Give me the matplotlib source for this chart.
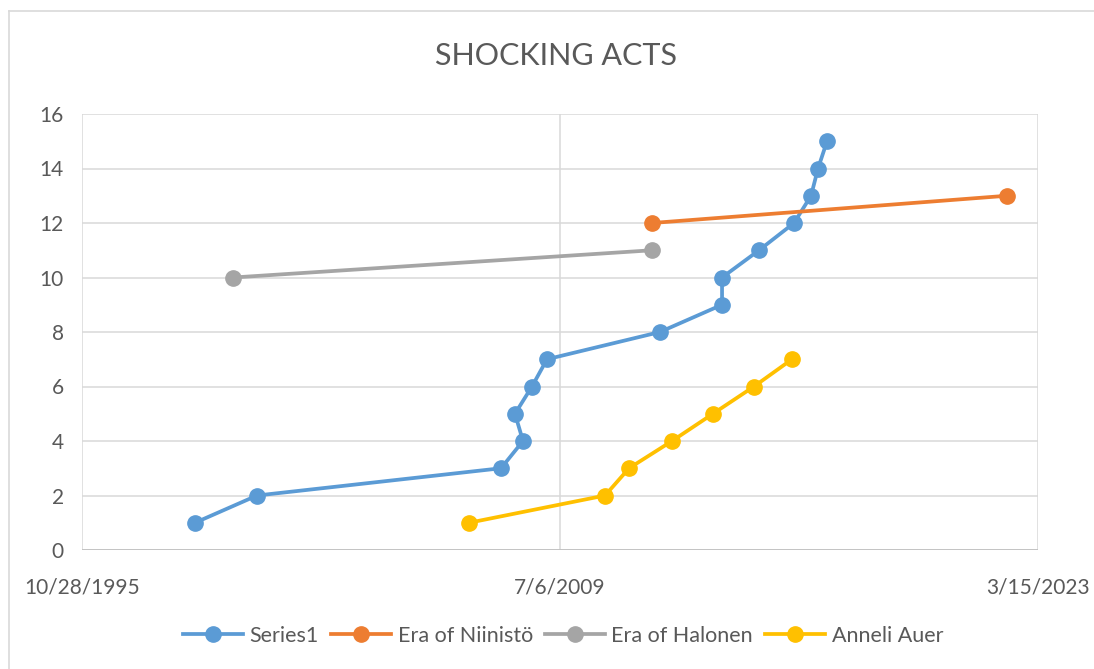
import matplotlib
matplotlib.use('Agg')
import matplotlib.pyplot as plt
import matplotlib.dates as mdates
from matplotlib.lines import Line2D
import pandas as pd

# dates (approximate)
series1_dates = ['1999-01-22', '2000-11-01', '2007-10-28', '2008-06-14', '2008-03-22',
                 '2008-09-16', '2009-02-20', '2012-05-17', '2014-02-25', '2014-02-25',
                 '2015-03-19', '2016-03-19', '2016-09-13', '2016-11-25', '2017-02-27']
series1_vals = [1, 2, 3, 4, 5, 6, 7, 8, 9, 10, 11, 12, 13, 14, 15]

niinisto_dates = ['2012-02-25', '2022-04-24']
niinisto_vals = [12, 13]

halonen_dates = ['2000-02-25', '2012-02-25']
halonen_vals = [10, 11]

auer_dates = ['2006-11-28', '2010-10-20', '2011-06-28', '2012-09-20',
              '2013-11-22', '2015-01-25', '2016-02-27']
auer_vals = [1, 2, 3, 4, 5, 6, 7]

x_ticks = ['1995-10-28', '2009-07-06', '2023-03-15']
title = 'SHOCKING ACTS'

series = [
    ('Series1', series1_dates, series1_vals, '#5B9BD5'),
    ('Era of Niinistö', niinisto_dates, niinisto_vals, '#ED7D31'),
    ('Era of Halonen', halonen_dates, halonen_vals, '#A5A5A5'),
    ('Anneli Auer', auer_dates, auer_vals, '#FFC000'),
]

plt.rcParams['font.family'] = ['Lato', 'DejaVu Sans']
txt = '#595959'

fig = plt.figure(figsize=(10.94, 6.69), dpi=100)
ax = fig.add_axes([82 / 1094, 1 - 550 / 669, (1038 - 82) / 1094, (550 - 114) / 669])

for name, d, v, c in series:
    ax.plot(pd.to_datetime(d), v, color=c, lw=2.7, marker='o', ms=11,
            label=name, clip_on=False, zorder=3)

tk = pd.to_datetime(x_ticks)
ax.set_xlim(tk[0], tk[-1])
ax.set_xticks(tk)
ax.xaxis.set_major_formatter(plt.FuncFormatter(
    lambda x, p: (lambda d: f"{d.month}/{d.day}/{d.year}")(mdates.num2date(x))))
ax.set_ylim(0, 16)
ax.set_yticks(range(0, 17, 2))

ax.grid(True, color='#D9D9D9', lw=1.1, zorder=0)
ax.set_axisbelow(True)
for s in ax.spines.values():
    s.set_visible(False)
ax.axhline(0, color='#BFBFBF', lw=1.2, zorder=1)
ax.tick_params(length=0, labelsize=15, labelcolor=txt)
ax.tick_params(axis='x', pad=20)
ax.tick_params(axis='y', pad=13)

fig.text(556 / 1094, 1 - 56 / 669, title, ha='center', va='center',
         fontsize=22, color=txt)

handles = [Line2D([], [], color=c, lw=2.7, marker='o', ms=11) for _, _, _, c in series]
fig.legend(handles, [s[0] for s in series], loc='center', ncol=4,
           bbox_to_anchor=(563 / 1094, 1 - 636 / 669), frameon=False,
           fontsize=15.5, labelcolor=txt, handlelength=2.8, columnspacing=0.55,
           handletextpad=0.3)

# chart border (cropped on right/bottom)
fig.add_artist(Line2D([9 / 1094, 9 / 1094], [0, 1 - 11 / 669], color='#D9D9D9', lw=1.2))
fig.add_artist(Line2D([9 / 1094, 1], [1 - 11 / 669, 1 - 11 / 669], color='#D9D9D9', lw=1.2))

fig.savefig('out.png', dpi=100)
